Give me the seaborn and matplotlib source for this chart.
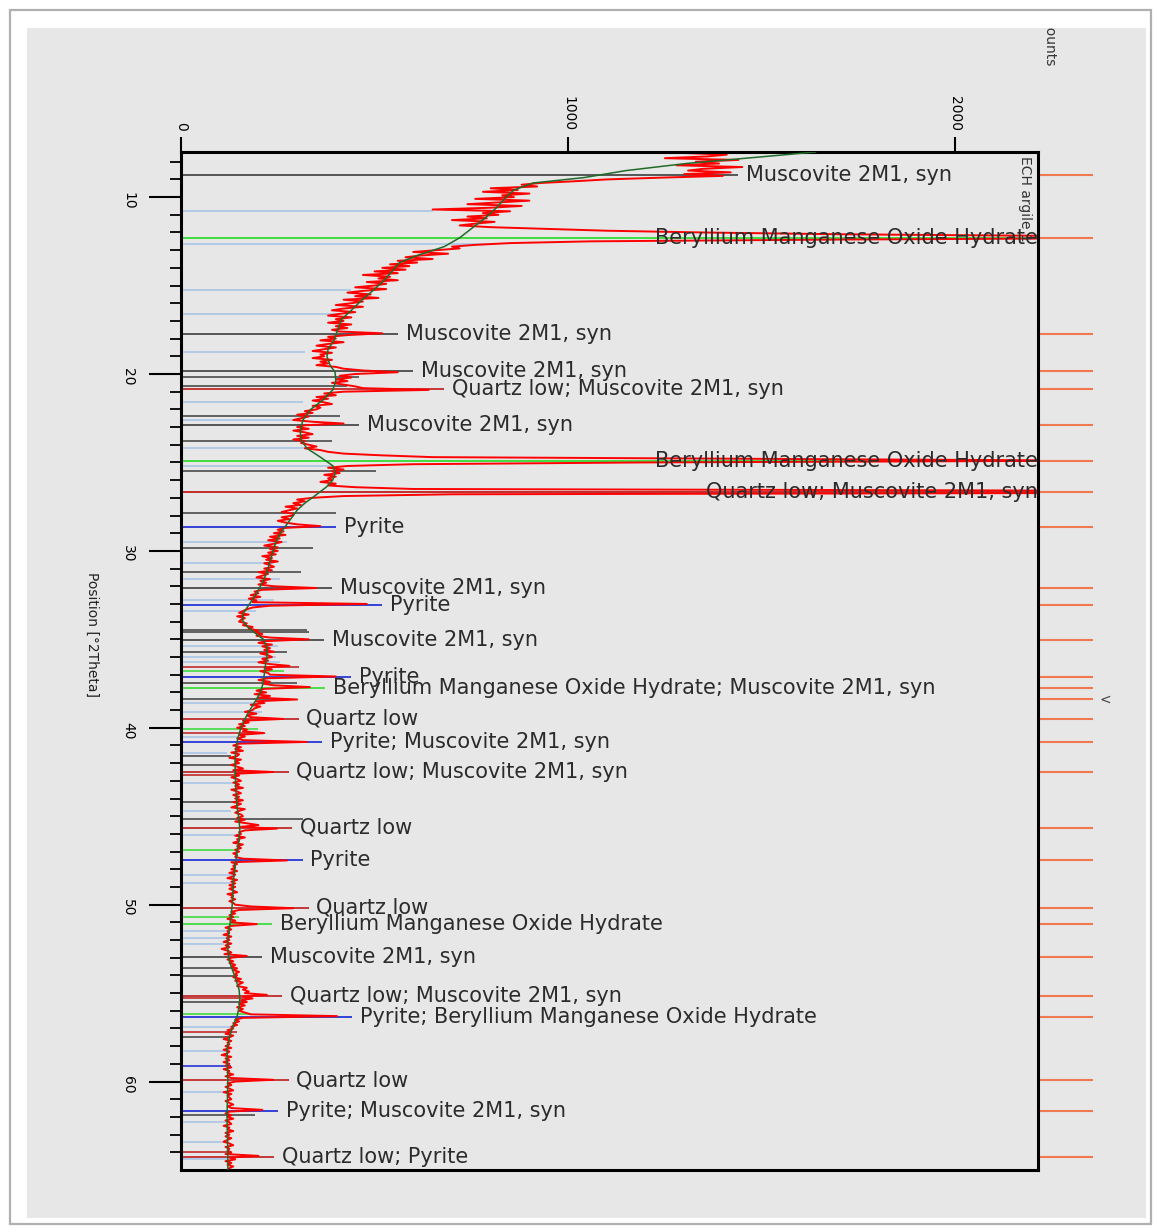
import numpy as np
import matplotlib
matplotlib.use("Agg")
import matplotlib.pyplot as plt
from matplotlib.patches import Rectangle
import seaborn as sns

# ---------------------------------------------------------------------------
# Measured scan (counts), 2theta from 7.0 deg in steps of 0.1 deg
scan_start = 7.0
scan_step = 0.1
obs_counts = [
    1340, 1380, 1300, 1420, 1330, 1290, 1410, 1360, 1250, 1440,   # 7
    1330, 1390, 1280, 1450, 1350, 1310, 1420, 1300, 1400, 1240,   # 8
    1100, 1020, 930, 880, 920, 800, 870, 780, 900, 830,           # 9
    860, 760, 900, 820, 740, 880, 800, 650, 850, 780,             # 10
    820, 740, 790, 700, 810, 760, 720, 800, 950, 1100,            # 11
    1350, 1700, 2300, 2650, 1700, 1060, 850, 760, 700, 720,       # 12
    660, 600, 690, 620, 580, 650, 560, 610, 540, 590,             # 13
    520, 580, 500, 560, 470, 540, 510, 560, 480, 530,             # 14
    500, 450, 530, 470, 430, 490, 450, 510, 420, 470,             # 15
    440, 400, 470, 420, 390, 450, 410, 380, 440, 400,             # 16
    420, 380, 440, 400, 430, 390, 410, 520, 430, 380,             # 17
    400, 360, 420, 380, 350, 400, 370, 340, 390, 360,             # 18
    370, 340, 390, 360, 380, 350, 400, 420, 470, 560,             # 19
    450, 410, 440, 400, 430, 390, 420, 450, 470, 640,             # 20
    420, 370, 400, 350, 380, 340, 370, 390, 340, 360,             # 21
    350, 320, 340, 300, 330, 310, 290, 340, 420, 320,             # 22
    300, 330, 290, 320, 340, 300, 330, 290, 320, 310,             # 23
    330, 350, 320, 360, 380, 420, 520, 650, 1500, 2400,           # 24
    1200, 600, 430, 380, 420, 390, 410, 370, 400, 380,            # 25
    390, 360, 400, 380, 450, 600, 2500, 3000, 700, 420,           # 26
    340, 300, 320, 290, 310, 270, 300, 280, 260, 290,             # 27
    290, 260, 280, 250, 270, 300, 360, 270, 250, 265,             # 28
    240, 270, 230, 255, 225, 260, 240, 215, 250, 230,             # 29
    250, 225, 245, 210, 235, 220, 250, 215, 230, 240,             # 30
    215, 235, 200, 225, 210, 195, 230, 205, 220, 200,             # 31
    240, 350, 210, 190, 200, 180, 205, 175, 195, 185,             # 32
    480, 230, 185, 170, 160, 150, 175, 145, 165, 155,             # 33
    150, 170, 160, 185, 175, 200, 190, 210, 195, 230,             # 34
    330, 220, 200, 235, 210, 230, 215, 240, 205, 225,             # 35
    235, 210, 225, 200, 230, 280, 215, 235, 205, 225,             # 36
    230, 400, 225, 200, 230, 210, 240, 333, 215, 195,             # 37
    220, 190, 230, 200, 300, 195, 215, 180, 205, 190,             # 38
    185, 165, 195, 170, 180, 264, 160, 175, 150, 165,             # 39
    145, 170, 160, 215, 150, 165, 145, 160, 325, 150,             # 40
    135, 155, 140, 160, 130, 150, 145, 125, 155, 140,             # 41
    150, 130, 145, 160, 135, 238, 140, 150, 130, 145,             # 42
    155, 135, 150, 140, 160, 130, 145, 155, 135, 150,             # 43
    140, 160, 135, 155, 145, 130, 165, 150, 140, 155,             # 44
    160, 145, 165, 140, 170, 200, 155, 248, 165, 150,             # 45
    155, 140, 165, 145, 150, 135, 160, 145, 155, 140,             # 46
    150, 135, 145, 140, 160, 274, 130, 145, 135, 140,             # 47
    130, 145, 125, 140, 135, 120, 145, 130, 140, 125,             # 48
    140, 125, 135, 145, 120, 135, 130, 140, 125, 135,             # 49
    140, 180, 290, 150, 130, 140, 125, 135, 120, 140,             # 50
    130, 196, 130, 115, 130, 120, 125, 110, 130, 118,             # 51
    125, 110, 130, 115, 125, 105, 120, 130, 112, 170,             # 52
    130, 120, 135, 125, 140, 130, 145, 135, 150, 140,             # 53
    145, 135, 155, 140, 160, 150, 145, 170, 160, 175,             # 54
    165, 222, 160, 185, 155, 170, 150, 165, 145, 160,             # 55
    150, 165, 180, 403, 160, 140, 150, 135, 145, 130,             # 56
    135, 120, 130, 115, 135, 125, 110, 130, 120, 125,             # 57
    115, 130, 110, 125, 120, 105, 130, 115, 125, 110,             # 58
    125, 115, 130, 110, 125, 120, 135, 115, 130, 238,             # 59
    140, 120, 130, 115, 125, 135, 110, 130, 120, 125,             # 60
    130, 115, 125, 135, 120, 130, 210, 125, 115, 130,             # 61
    120, 135, 115, 125, 130, 110, 125, 120, 135, 115,             # 62
    125, 115, 130, 120, 110, 125, 135, 115, 125, 120,             # 63
    130, 115, 200, 125, 140, 115, 130, 120, 135, 125,             # 64
    120,
]

# Fitted background
bg_tt = [7.45, 7.8, 8.1, 8.5, 8.9, 9.2, 9.6, 10.0, 10.6, 11.2, 11.7, 12.3,
         12.8, 13.3, 13.7, 14.2, 14.7, 15.3, 15.8, 16.4, 16.9, 17.5, 18.1,
         18.6, 19.0, 19.5, 19.9, 20.4, 20.9, 21.5, 22.0, 22.6, 23.2, 23.7,
         24.2, 24.7, 25.2, 25.6, 26.0, 26.4, 26.9, 27.3, 27.7, 28.3, 28.9,
         29.5, 30.0, 30.6, 31.2, 31.8, 32.4, 32.9, 33.5, 33.9, 34.3, 34.7,
         35.0, 35.5, 36.0, 36.5, 37.0, 37.5, 38.0, 38.5, 39.0, 39.5, 40.0,
         40.5, 41.0, 41.8, 42.5, 43.5, 44.5, 45.2, 45.8, 46.3, 47.0, 47.8,
         48.5, 49.3, 50.1, 51.0, 52.0, 52.5, 53.2, 54.0, 54.8, 55.3, 55.8,
         56.3, 56.8, 57.5, 58.2, 59.0, 60.0, 61.0, 62.0, 63.0, 64.0, 65.0]
bg_counts = [1640, 1460, 1305, 1150, 1040, 910, 860, 840, 815, 785, 755, 720,
             680, 610, 565, 545, 525, 495, 468, 440, 415, 405, 395,
             380, 377, 385, 398, 400, 392, 365, 335, 315, 308, 310,
             325, 360, 393, 398, 392, 375, 345, 320, 300, 280, 260,
             245, 238, 230, 222, 210, 195, 180, 162, 158, 172, 195,
             213, 222, 222, 218, 215, 212, 205, 192, 178, 165, 155,
             148, 143, 140, 140, 142, 145, 150, 152, 150, 145, 140,
             136, 134, 132, 127, 121, 121, 125, 138, 150, 152, 150,
             145, 135, 125, 119, 120, 121, 120, 119, 120, 121, 121]

# Identified peaks
label_tt = [8.76, 12.3, 17.74, 19.83, 20.85, 22.88, 24.9, 26.67, 28.64, 32.09,
            33.05, 35.03, 37.12, 37.74, 39.49, 40.79, 42.49, 45.65, 47.46,
            50.17, 51.07, 52.94, 55.14, 56.33, 59.94, 61.64, 64.24]
label_text = [
    "Muscovite 2M1, syn",
    "Beryllium Manganese Oxide Hydrate",
    "Muscovite 2M1, syn",
    "Muscovite 2M1, syn",
    "Quartz low; Muscovite 2M1, syn",
    "Muscovite 2M1, syn",
    "Beryllium Manganese Oxide Hydrate",
    "Quartz low; Muscovite 2M1, syn",
    "Pyrite",
    "Muscovite 2M1, syn",
    "Pyrite",
    "Muscovite 2M1, syn",
    "Pyrite",
    "Beryllium Manganese Oxide Hydrate; Muscovite 2M1, syn",
    "Quartz low",
    "Pyrite; Muscovite 2M1, syn",
    "Quartz low; Muscovite 2M1, syn",
    "Quartz low",
    "Pyrite",
    "Quartz low",
    "Beryllium Manganese Oxide Hydrate",
    "Muscovite 2M1, syn",
    "Quartz low; Muscovite 2M1, syn",
    "Pyrite; Beryllium Manganese Oxide Hydrate",
    "Quartz low",
    "Pyrite; Muscovite 2M1, syn",
    "Quartz low; Pyrite",
]
extra_mark_tt = [38.4]

# Reference pattern lines (position, relative height in counts, phase)
stick_tt = [10.77, 12.65, 15.25, 16.6, 18.74, 20.17, 20.7, 21.6, 22.4, 22.6,
            23.8, 24.2, 25.2, 25.46, 27.84, 29.5, 29.85, 30.7, 31.2, 31.6,
            32.8, 33.4, 34.5, 34.6, 35.4, 35.7, 36.0, 36.3, 36.55, 36.8,
            37.46, 38.4, 38.6, 39.1, 40.05, 40.3, 40.5, 41.4, 41.6, 42.1,
            42.65, 43.1, 44.2, 44.7, 45.15, 46.05, 46.9, 48.3, 48.75, 50.7,
            51.5, 51.9, 52.2, 53.6, 54.05, 55.25, 55.5, 56.2, 56.9, 57.2,
            57.5, 58.3, 59.1, 60.6, 61.9, 62.3, 63.4, 64.0, 64.4]
stick_len = [650, 800, 440, 400, 320, 460, 430, 315, 410, 305,
             390, 325, 390, 505, 400, 275, 340, 240, 310, 255,
             240, 195, 325, 330, 250, 275, 245, 255, 305, 265,
             300, 280, 220, 210, 200, 190, 150, 120, 130, 140,
             145, 135, 145, 130, 315, 140, 145, 137, 130, 150,
             120, 125, 110, 140, 145, 170, 160, 180, 140, 145,
             130, 120, 130, 125, 190, 120, 115, 125, 120]
stick_phase = ["L", "L", "L", "L", "L", "M", "M", "L", "M", "L",
               "M", "L", "L", "M", "M", "L", "M", "L", "M", "L",
               "L", "L", "M", "M", "L", "M", "L", "L", "Q", "B",
               "M", "M", "L", "L", "B", "Q", "L", "L", "M", "M",
               "Q", "L", "M", "L", "M", "L", "B", "L", "L", "B",
               "L", "L", "L", "M", "M", "Q", "M", "B", "L", "Q",
               "M", "L", "P", "L", "M", "L", "L", "Q", "L"]

phase_colors = {"M": "#4a4a4a", "B": "#3fdc3f", "Q": "#c22a2a",
                "P": "#2636d6", "L": "#a9c5e6"}
phase_codes = {"Muscovite 2M1, syn": "M",
               "Beryllium Manganese Oxide Hydrate": "B",
               "Quartz low": "Q", "Pyrite": "P"}

# ---------------------------------------------------------------------------
sns.set_style("ticks")
plt.rcParams["font.family"] = ["DejaVu Sans"]

W, H = 1157, 1232
fig = plt.figure(figsize=(W / 100, H / 100), dpi=100)
fig.patch.set_facecolor("white")


def fx(px):
    return px / W


def fy(py):
    return 1 - py / H


card = Rectangle((fx(10), fy(1224)), (1151 - 10) / W, (1224 - 10) / H,
                 transform=fig.transFigure, facecolor="white",
                 edgecolor="#b0b0b0", lw=1.6, zorder=-3)
panel = Rectangle((fx(27), fy(1218)), (1146 - 27) / W, (1218 - 28) / H,
                  transform=fig.transFigure, facecolor="#e7e7e7",
                  edgecolor="none", zorder=-2)
fig.patches.extend([card, panel])

ax = fig.add_axes([fx(181), fy(1170), (1038 - 181) / W, (1170 - 152) / H])
ax.set_facecolor("#e7e7e7")

xmax = 2214
obs_tt = scan_start + scan_step * np.arange(len(obs_counts))
obs = np.asarray(obs_counts, dtype=float)

# reference sticks
ax.hlines(stick_tt, 0, stick_len, colors=[phase_colors[p] for p in stick_phase],
          lw=1.2, zorder=1)

# peak labels with their connector lines
label_gap = 60
for tt, txt in zip(label_tt, label_text):
    top = obs[np.abs(obs_tt - tt) <= 0.08].max()
    col = phase_colors[phase_codes[txt.split("; ")[0]]]
    if top >= xmax:
        ax.hlines(tt, 0, xmax, colors=col, lw=1.4, zorder=1.2)
        ax.text(xmax, tt, txt, ha="right", va="center", fontsize=15,
                color="#2b2b2b", zorder=4)
    else:
        lx = top + label_gap
        ax.hlines(tt, 0, lx - 20, colors=col, lw=1.3, zorder=1.2)
        ax.text(lx, tt, txt, ha="left", va="center", fontsize=15,
                color="#2b2b2b", zorder=4)

# measured pattern and background
sns.lineplot(x=obs, y=obs_tt, sort=False, estimator=None, color="#ff0000",
             lw=1.4, ax=ax, zorder=2)
sns.lineplot(x=bg_counts, y=bg_tt, sort=False, estimator=None,
             color="#1f6b2a", lw=1.1, ax=ax, zorder=3)

# peak markers on the right-hand side
mark_len = 142
ax.hlines(label_tt + extra_mark_tt, xmax, xmax + mark_len, colors="#f07a50",
          lw=1.5, clip_on=False, zorder=1)
ax.text(xmax + mark_len + 32, extra_mark_tt[0], "<", ha="center", va="center",
        fontsize=10, color="#444444", clip_on=False)

ax.set_xlim(0, xmax)
ax.set_ylim(65.0, 7.45)
ax.set_xlabel("")
ax.set_ylabel("")

for s in ax.spines.values():
    s.set_visible(True)
    s.set_linewidth(2.2)
    s.set_color("black")

ax.xaxis.tick_top()
ax.set_xticks([0, 1000, 2000])
ax.tick_params(axis="x", which="major", top=True, bottom=False, length=11,
               width=1.5, direction="out", pad=4, labelsize=10,
               labelrotation=-90, labeltop=True, labelbottom=False,
               colors="black")
ax.set_yticks([10, 20, 30, 40, 50, 60])
ax.set_yticks(np.arange(8, 65), minor=True)
ax.tick_params(axis="y", which="major", left=True, right=False, length=23,
               width=1.5, direction="out", pad=10, labelsize=10,
               labelrotation=-90, colors="black")
ax.tick_params(axis="y", which="minor", left=True, right=False, length=8,
               width=1.3, direction="out", colors="black")

fig.text(fx(92), fy(634), "Position [°2Theta]", rotation=-90, ha="center",
         va="center", fontsize=10, color="#222222")
counts_txt = fig.text(fx(1049), fy(18), "Counts", rotation=-90, ha="center",
                      va="top", fontsize=10, color="#333333")
counts_txt.set_clip_path(panel)
fig.text(fx(1025), fy(156), "ECH argile 1", rotation=-90, ha="center",
         va="top", fontsize=10, color="#333333")

fig.savefig("out.png", dpi=100, facecolor="white")
